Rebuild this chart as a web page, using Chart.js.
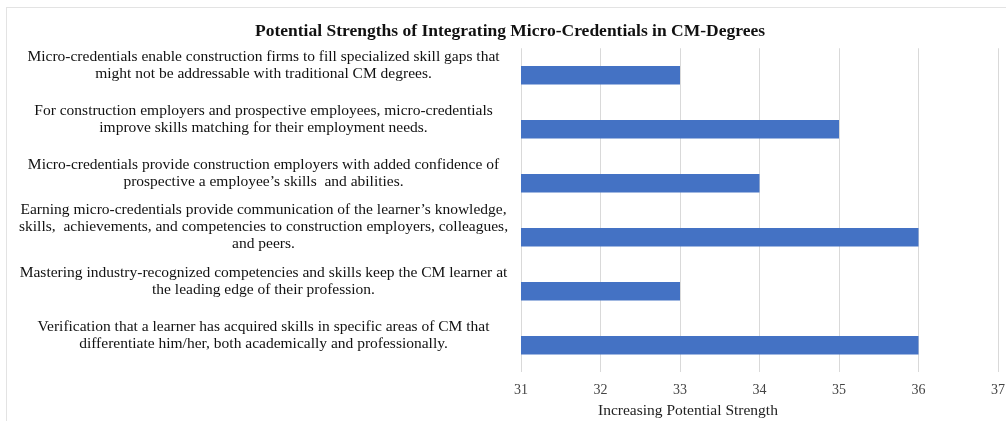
<!DOCTYPE html>
<html>
<head>
<meta charset="utf-8">
<script src="https://cdn.jsdelivr.net/npm/chart.js@4/dist/chart.umd.min.js"></script>
<style>
  html, body { margin: 0; padding: 0; background: #fff; }
  #wrap { position: relative; width: 1006px; height: 421px; overflow: hidden; }
  #frame { position: absolute; left: 6px; top: 7px; width: 1010px; height: 420px; border: 1px solid #e3e3e3; box-sizing: border-box; pointer-events: none; }
</style>
</head>
<body>
<div id="wrap">
  <div id="frame"></div>
  <canvas id="chart" width="1006" height="421"></canvas>
</div>
<script>
const categories = [
  ['Micro-credentials enable construction firms to fill specialized skill gaps that', 'might not be addressable with traditional CM degrees.'],
  ['For construction employers and prospective employees, micro-credentials', 'improve skills matching for their employment needs.'],
  ['Micro-credentials provide construction employers with added confidence of', 'prospective a employee\u2019s skills  and abilities.'],
  ['Earning micro-credentials provide communication of the learner\u2019s knowledge,', 'skills,  achievements, and competencies to construction employers, colleagues,', 'and peers.'],
  ['Mastering industry-recognized competencies and skills keep the CM learner at', 'the leading edge of their profession.'],
  ['Verification that a learner has acquired skills in specific areas of CM that', 'differentiate him/her, both academically and professionally.']
];
const strength = [33, 35, 34, 36, 33, 36];
const xMin = 31;
const xMax = 37;
const chartTitle = 'Potential Strengths of Integrating Micro-Credentials in CM-Degrees';
const xTitle = 'Increasing Potential Strength';

const serif = '"Liberation Serif", "Times New Roman", serif';

// titolo asse x, spostato a sinistra come nell'originale
const xTitlePlugin = {
  id: 'xTitle',
  afterDraw(c) {
    const ctx = c.ctx;
    const a = c.chartArea;
    ctx.save();
    ctx.font = '15.5px ' + serif;
    ctx.fillStyle = '#222';
    ctx.textAlign = 'center';
    ctx.textBaseline = 'middle';
    ctx.fillText(xTitle, a.left + a.width * 0.35, 411);
    ctx.restore();
  }
};

new Chart(document.getElementById('chart'), {
  type: 'bar',
  data: {
    labels: categories,
    datasets: [{
      data: strength,
      backgroundColor: '#4472C4',
      barPercentage: 0.34,
      categoryPercentage: 1
    }]
  },
  plugins: [xTitlePlugin],
  options: {
    indexAxis: 'y',
    responsive: false,
    animation: false,
    layout: { padding: { left: 14, right: 0, top: 22, bottom: 12 } },
    plugins: {
      legend: { display: false },
      tooltip: { enabled: false },
      title: {
        display: true,
        text: chartTitle,
        color: '#111',
        font: { family: serif, size: 17.5, weight: 'bold', lineHeight: 1.1 },
        padding: { top: 0, bottom: 7 }
      }
    },
    scales: {
      x: {
        min: xMin,
        max: xMax,
        grid: { color: '#d9d9d9', drawTicks: false },
        border: { display: false },
        afterFit(s) { s.paddingRight = 8; },
        ticks: { stepSize: 1, color: '#444', padding: 10, font: { family: serif, size: 14 } }
      },
      y: {
        grid: { display: false, drawTicks: false },
        border: { display: false },
        afterFit(s) { s.width = 507; },
        ticks: {
          color: '#111',
          autoSkip: false,
          crossAlign: 'center',
          padding: 13,
          labelOffset: -10,
          font: { family: serif, size: 15.5, lineHeight: 1.1 }
        }
      }
    }
  }
});
</script>
</body>
</html>
